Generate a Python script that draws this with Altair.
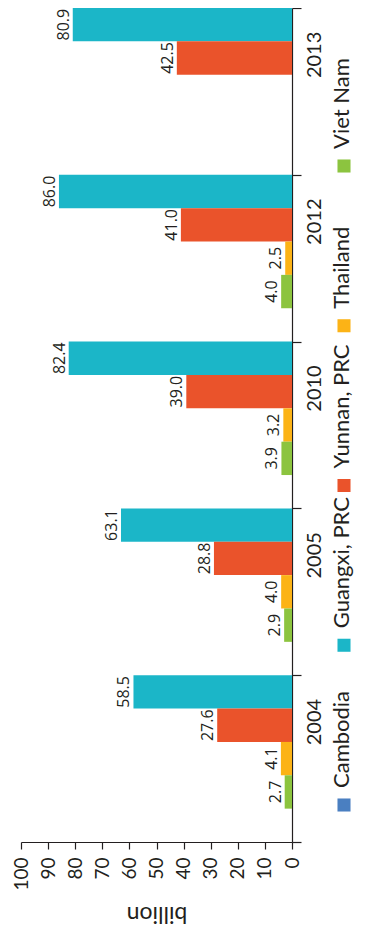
import altair as alt
import pandas as pd

# ---- data ----
years = ["2004", "2005", "2010", "2012", "2013"]
series = ["Cambodia", "Guangxi, PRC", "Yunnan, PRC", "Thailand", "Viet Nam"]
cambodia = [None, None, None, None, None]
guangxi = [58.5, 63.1, 82.4, 86.0, 80.9]
yunnan = [27.6, 28.8, 39.0, 41.0, 42.5]
thailand = [4.1, 4.0, 3.2, 2.5, None]
viet_nam = [2.7, 2.9, 3.9, 4.0, None]
value_ticks = [0, 10, 20, 30, 40, 50, 60, 70, 80, 90, 100]
colors = ["#4a7fc1", "#1bb6c8", "#ea532b", "#fcb316", "#8cc43f"]

rows = []
for s, vals in zip(series, [cambodia, guangxi, yunnan, thailand, viet_nam]):
    for yr, v in zip(years, vals):
        if v is not None:
            rows.append({"year": yr, "series": s, "value": v})
df = pd.DataFrame(rows)
legend_df = pd.DataFrame({"series": series})

year_order = years[::-1]
slot_order = ["Guangxi, PRC", "Yunnan, PRC", "Thailand", "Viet Nam", "Cambodia"]
legend_order = series[::-1]

INK = "#231f20"
HUM = "Lato"

color_scale = alt.Scale(domain=series, range=colors)

y_enc = alt.Y(
    "year:N",
    sort=year_order,
    scale=alt.Scale(domain=year_order, paddingInner=0, paddingOuter=0),
    axis=alt.Axis(
        orient="right", title=None, labelAngle=270, labelAlign="center",
        labelBaseline="top", labelPadding=3, labelOffset=-37, tickBand="extent",
        tickSize=9, labelFont=HUM, labelFontSize=20, labelColor=INK,
        domainColor=INK, tickColor=INK, domainWidth=1.2, tickWidth=1.2,
    ),
)
yoff_enc = alt.YOffset(
    "series:N", scale=alt.Scale(domain=slot_order, paddingInner=0, paddingOuter=0)
)
x_enc = alt.X(
    "value:Q",
    scale=alt.Scale(domain=[0, 100], reverse=True, nice=False),
    axis=alt.Axis(
        values=value_ticks, format="d", title="billion", grid=False,
        labelAngle=270, labelAlign="right", labelBaseline="middle",
        labelPadding=8, tickSize=7, labelFont=HUM, labelFontSize=19,
        labelColor=INK, domainColor=INK, tickColor=INK, domainWidth=1.2,
        tickWidth=1.2, titleAngle=180, titleBaseline="bottom", titlePadding=11,
        titleFont=HUM, titleFontSize=23, titleFontWeight="normal", titleColor=INK,
    ),
)

base = alt.Chart(df).encode(y=y_enc, yOffset=yoff_enc, x=x_enc)
bars = base.mark_bar().encode(
    color=alt.Color("series:N", scale=color_scale, legend=None)
)
labels = base.mark_text(
    angle=270, align="center", baseline="alphabetic", dy=-4,
    font="Open Sans", fontSize=16, color=INK,
).encode(text=alt.Text("value:Q", format=".1f"))

leg_y = alt.Y(
    "series:N",
    scale=alt.Scale(type="point", domain=legend_order, range=[158, 797], padding=0),
    axis=None,
)
squares = alt.Chart(legend_df).mark_point(
    shape="square", filled=True, size=170, opacity=1
).encode(
    x=alt.value(323), y=leg_y,
    color=alt.Color("series:N", scale=color_scale, legend=None),
)
leg_text = alt.Chart(legend_df).mark_text(
    angle=270, align="left", baseline="alphabetic", dx=17,
    font=HUM, fontSize=22, color=INK,
).encode(x=alt.value(328), y=leg_y, text="series:N")

main = alt.layer(bars, labels)
legend = alt.layer(squares, leg_text)

chart = (
    alt.layer(main, legend)
    .resolve_scale(y="independent")
    .properties(
        width=271, height=834,
        padding={"left": 13, "top": 0, "right": 65, "bottom": 88},
        autosize=alt.AutoSizeParams(type="none"),
    )
    .configure_view(stroke=None)
)

chart.save("out.html", embed_options={"renderer": "svg", "actions": False})
